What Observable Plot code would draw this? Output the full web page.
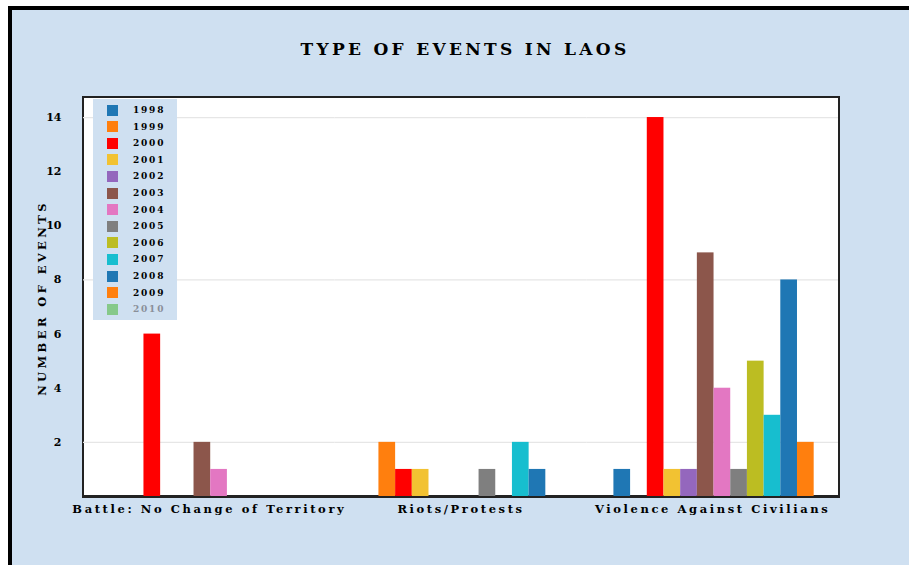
<!DOCTYPE html>
<html>
<head>
<meta charset="utf-8">
<script src="https://cdn.jsdelivr.net/npm/d3@7"></script>
<script src="https://cdn.jsdelivr.net/npm/@observablehq/plot@0.6"></script>
<style>
  html, body { margin: 0; padding: 0; background: #ffffff; }
  #page { position: relative; width: 909px; height: 565px; overflow: hidden; background: #ffffff; }
  #panel { position: absolute; left: 8px; top: 6px; width: 920px; height: 556px; background: #cfe0f1;
           border-left: 4px solid #000; border-top: 4px solid #000; border-bottom: 2px solid #000; }
  #title { position: absolute; left: 0; width: 930px; top: 39px; text-align: center;
           font-family: "DejaVu Serif", serif; font-weight: bold; font-size: 17px; letter-spacing: 3.3px; color: #000; }
  #box { position: absolute; left: 82px; top: 96px; width: 754px; height: 397px; background: #fff;
         border: 2px solid #222; border-bottom-width: 3px; }
  #chart { position: absolute; left: 0; top: 0; }
  #chart svg text { font-family: "DejaVu Serif", serif; font-weight: bold; fill: #000; }
  #ytitle { position: absolute; left: 42px; top: 298px; transform: translate(-50%, -50%) rotate(-90deg);
            white-space: nowrap; font-family: "DejaVu Serif", serif; font-weight: bold; font-size: 11.5px; letter-spacing: 3.4px; }
  #legend { position: absolute; left: 93px; top: 99px; width: 84px; height: 221px; background: #cfe0f1; }
  .lrow { position: absolute; left: 14px; height: 12px; display: flex; align-items: center;
          font-family: "DejaVu Serif", serif; font-weight: bold; font-size: 9px; letter-spacing: 1.8px; }
  .lsw { width: 11px; height: 11px; margin-right: 15px; }
</style>
</head>
<body>
<div id="page">
  <div id="panel"></div>
  <div id="title">TYPE OF EVENTS IN LAOS</div>
  <div id="box"></div>
  <div id="chart"></div>
  <div id="ytitle">NUMBER OF EVENTS</div>
  <div id="legend"></div>
</div>
<script>
const categories = ["Battle: No Change of Territory", "Riots/Protests", "Violence Against Civilians"];
const years = ["1998","1999","2000","2001","2002","2003","2004","2005","2006","2007","2008","2009","2010"];
const colors = ["#1f77b4","#ff7f0e","#ff0000","#f2c232","#9467bd","#8c564b","#e377c2","#7f7f7f","#bcbd22","#17becf","#1f77b4","#ff7f0e","#86c98a"];
const battle   = [0, 0, 6, 0, 0, 2, 1, 0, 0, 0, 0, 0, 0];
const riots    = [0, 2, 1, 1, 0, 0, 0, 1, 0, 2, 1, 0, 0];
const violence = [1, 0, 14, 1, 1, 9, 4, 1, 5, 3, 8, 2, 0];
const yTicks = [2, 4, 6, 8, 10, 12, 14];
const gridValues = [2, 8, 14];

const series = [battle, riots, violence];
const data = [];
categories.forEach((c, i) => years.forEach((y, j) => data.push({category: c, year: y, value: series[i][j]})));

const chart = Plot.plot({
  width: 909,
  height: 565,
  marginLeft: 83,
  marginRight: 71,
  marginTop: 97,
  marginBottom: 69,
  style: {background: "transparent", overflow: "visible"},
  fx: {domain: categories, paddingInner: 0, paddingOuter: 0, round: false, label: null, axis: "bottom", tickSize: 0, tickPadding: 8},
  x: {domain: years, paddingInner: 0, paddingOuter: 1.04, align: 0.78, round: false, axis: null},
  y: {domain: [0, 14.74], ticks: yTicks, tickSize: 0, tickPadding: 22, label: null, tickFormat: d => String(d)},
  color: {type: "ordinal", domain: years, range: colors},
  marks: [
    Plot.ruleY(gridValues, {stroke: "#e6e6e6", strokeWidth: 1.2}),
    Plot.barY(data.filter(d => d.value > 0), {fx: "category", x: "year", y: "value", fill: "year", insetLeft: 0, insetRight: 0})
  ]
});
document.getElementById("chart").appendChild(chart);

chart.querySelectorAll("g[aria-label='fx-axis tick label'] text, g[aria-label='fx-axis'] text").forEach(t => {
  t.style.fontSize = "11.5px"; t.style.letterSpacing = "2.6px";
});
chart.querySelectorAll("g[aria-label='y-axis tick label'] text, g[aria-label='y-axis'] text").forEach(t => {
  t.style.fontSize = "11px";
});

const colorScale = chart.scale("color");
const legend = document.getElementById("legend");
years.forEach((y, i) => {
  const row = document.createElement("div");
  row.className = "lrow";
  row.style.top = (5 + i * 16.6) + "px";
  const sw = document.createElement("div");
  sw.className = "lsw";
  sw.style.background = colorScale.range[i];
  const tx = document.createElement("span");
  tx.textContent = y;
  if (y === "2010") tx.style.color = "#8a8f99";
  row.appendChild(sw); row.appendChild(tx);
  legend.appendChild(row);
});
</script>
</body>
</html>
